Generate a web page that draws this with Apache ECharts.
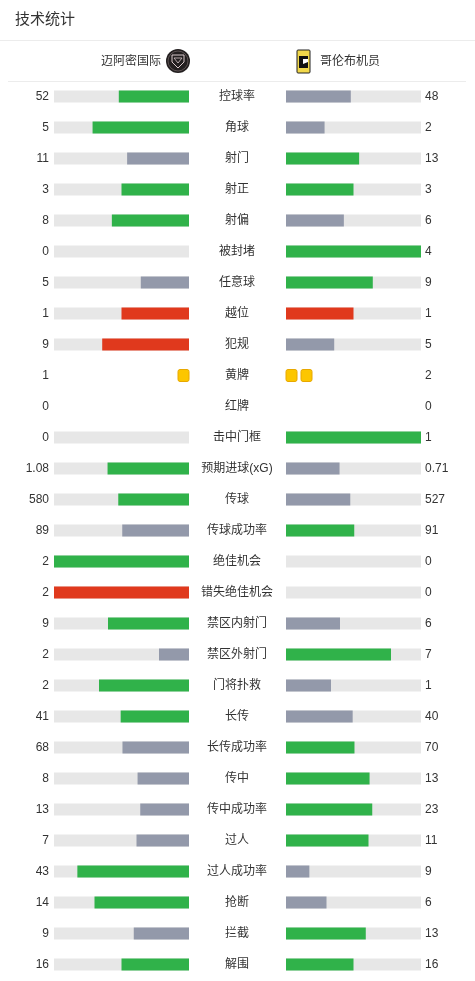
<!DOCTYPE html>
<html><head><meta charset="utf-8">
<script src="https://cdn.jsdelivr.net/npm/echarts@6/dist/echarts.min.js"></script>
<style>html,body{margin:0;padding:0;background:#fff}#c{width:475px;height:981px}</style>
</head><body><div id="c"></div>
<script>
const categories = ['控球率','角球','射门','射正','射偏','被封堵','任意球','越位','犯规','黄牌','红牌','击中门框','预期进球(xG)','传球','传球成功率','绝佳机会','错失绝佳机会','禁区内射门','禁区外射门','门将扑救','长传','长传成功率','传中','传中成功率','过人','过人成功率','抢断','拦截','解围'];
const homeValues = [52,5,11,3,8,0,5,1,9,1,0,0,1.08,580,89,2,2,9,2,2,41,68,8,13,7,43,14,9,16];
const awayValues = [48,2,13,3,6,4,9,1,5,2,0,1,0.71,527,91,0,0,6,7,1,40,70,13,23,11,9,6,13,16];
const badStats = ['越位','犯规','错失绝佳机会'];
const cardStats = ['黄牌','红牌'];
const homeTeam = '迈阿密国际';
const awayTeam = '哥伦布机员';
const chartTitle = '技术统计';

const GREEN = '#30b24a', GRAY = '#9399aa', RED = '#e0391d', BG = '#e7e7e7', YEL = '#fcc600';
const FONT = "Arial, 'Noto Sans CJK SC', sans-serif";

function colorFor(a, b, cat) {
  const bad = badStats.includes(cat);
  if (a >= b) return bad ? RED : GREEN;
  return GRAY;
}
const homeData = [], awayData = [], bgData = [];
categories.forEach((c, i) => {
  const h = homeValues[i], a = awayValues[i], s = h + a;
  const isCard = cardStats.includes(c);
  bgData.push(isCard ? '-' : 1);
  if (isCard || s === 0) { homeData.push('-'); awayData.push('-'); return; }
  homeData.push({ value: h / s, itemStyle: { color: colorFor(h, a, c) } });
  awayData.push({ value: a / s, itemStyle: { color: colorFor(a, h, c) } });
});
const yi = categories.indexOf('黄牌');
const homeCards = [[homeValues[yi], yi]];
const awayCards = [[awayValues[yi], yi]];

function cardRender(dir) {
  return function (params, api) {
    const n = api.value(0), idx = api.value(1);
    const p = api.coord([0, idx]);
    const children = [];
    for (let k = 0; k < n; k++) {
      const x = dir < 0 ? p[0] - 11 - k * 15 : p[0] + k * 15;
      children.push({ type: 'rect', shape: { x: x, y: p[1] - 6, width: 11, height: 12, r: 2 },
        style: { fill: YEL, stroke: '#e8a800', lineWidth: 1 } });
    }
    return { type: 'group', children: children };
  };
}

const gridTop = 81, gridHeight = 899;
const chart = echarts.init(document.getElementById('c'), null, { renderer: 'canvas' });
chart.setOption({
  animation: false,
  title: { text: chartTitle, left: 15, top: 12, padding: 0, textStyle: { fontSize: 15, fontWeight: 'normal', color: '#333', fontFamily: FONT } },
  grid: [
    { left: 54, width: 135, top: gridTop, height: gridHeight },
    { left: 286, width: 135, top: gridTop, height: gridHeight }
  ],
  xAxis: [
    { gridIndex: 0, type: 'value', min: 0, max: 1, inverse: true, show: false },
    { gridIndex: 1, type: 'value', min: 0, max: 1, show: false }
  ],
  yAxis: [
    { gridIndex: 0, type: 'category', data: categories, inverse: true, position: 'left',
      axisLine: { show: false }, axisTick: { show: false },
      axisLabel: { margin: 5, fontSize: 12, color: '#333', fontFamily: FONT, formatter: (v, i) => String(homeValues[i]) } },
    { gridIndex: 0, type: 'category', data: categories, inverse: true, position: 'right',
      axisLine: { show: false }, axisTick: { show: false },
      axisLabel: { margin: 48, align: 'center', fontSize: 12, color: '#333', fontFamily: FONT, padding: [5, 0, 0, 0] } },
    { gridIndex: 1, type: 'category', data: categories, inverse: true, position: 'right',
      axisLine: { show: false }, axisTick: { show: false },
      axisLabel: { margin: 4, fontSize: 12, color: '#333', fontFamily: FONT, formatter: (v, i) => String(awayValues[i]) } }
  ],
  series: [
    { type: 'bar', xAxisIndex: 0, yAxisIndex: 0, data: bgData, barWidth: 12, itemStyle: { color: BG }, silent: true },
    { type: 'bar', xAxisIndex: 0, yAxisIndex: 0, data: homeData, barWidth: 12, barGap: '-100%' },
    { type: 'bar', xAxisIndex: 1, yAxisIndex: 2, data: bgData, barWidth: 12, itemStyle: { color: BG }, silent: true },
    { type: 'bar', xAxisIndex: 1, yAxisIndex: 2, data: awayData, barWidth: 12, barGap: '-100%' },
    { type: 'custom', xAxisIndex: 0, yAxisIndex: 0, data: homeCards, renderItem: cardRender(-1), encode: { x: 0, y: 1 } },
    { type: 'custom', xAxisIndex: 1, yAxisIndex: 2, data: awayCards, renderItem: cardRender(1), encode: { x: 0, y: 1 } }
  ],
  graphic: [
    { type: 'line', shape: { x1: 0, y1: 40.5, x2: 475, y2: 40.5 }, style: { stroke: '#ececec', lineWidth: 1 } },
    { type: 'line', shape: { x1: 8, y1: 81.5, x2: 466, y2: 81.5 }, style: { stroke: '#ececec', lineWidth: 1 } },
    { type: 'text', x: 161, y: 62, style: { text: homeTeam, fontSize: 12, fill: '#333', align: 'right', verticalAlign: 'middle', fontFamily: FONT } },
    { type: 'text', x: 320, y: 62, style: { text: awayTeam, fontSize: 12, fill: '#333', align: 'left', verticalAlign: 'middle', fontFamily: FONT } },
    { type: 'circle', shape: { cx: 178, cy: 61, r: 12 }, style: { fill: '#231f20' } },
    { type: 'circle', shape: { cx: 178, cy: 61, r: 10 }, style: { fill: 'none', stroke: '#6b5f60', lineWidth: 0.8 } },
    { type: 'polygon', shape: { points: [[172, 55], [184, 55], [184, 62], [178, 68], [172, 62]] }, style: { fill: 'none', stroke: '#d9c9cb', lineWidth: 1 } },
    { type: 'polygon', shape: { points: [[174, 58], [178, 63], [182, 58]] }, style: { fill: 'none', stroke: '#d9c9cb', lineWidth: 0.8 } },
    { type: 'rect', shape: { x: 297, y: 50, width: 13, height: 23, r: 1 }, style: { fill: '#f2d84a', stroke: '#222', lineWidth: 1 } },
    { type: 'rect', shape: { x: 299, y: 56, width: 9, height: 12 }, style: { fill: '#111' } },
    { type: 'polygon', shape: { points: [[303, 59], [308, 59], [308, 62], [303, 64]] }, style: { fill: '#fff' } }
  ]
});
</script></body></html>
